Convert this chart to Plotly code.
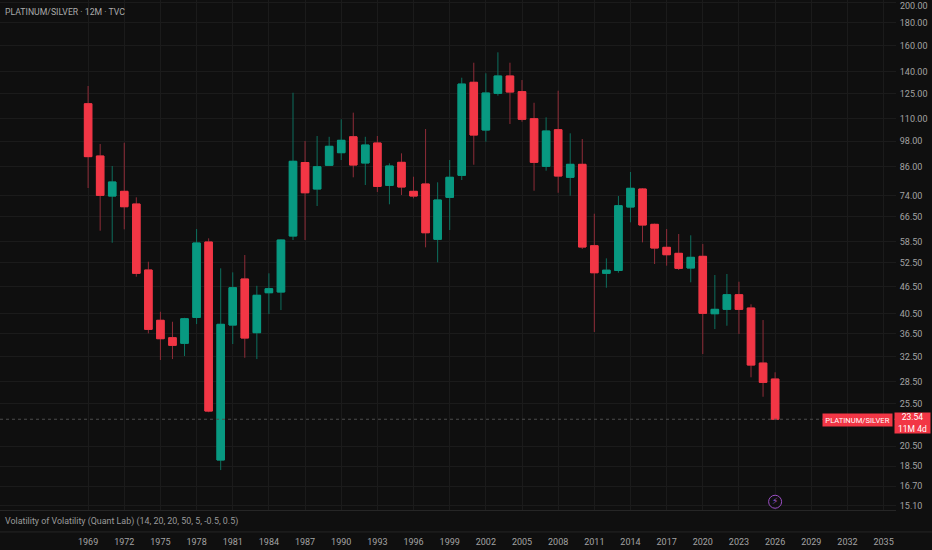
import plotly.graph_objects as go

years = list(range(1969, 2027))

opens = [118.7, 90.8, 73.95, 75.75, 70.98, 50.6, 39.1, 35.76, 34.75, 39.69,
         58.41, 19.1, 38.16, 48.32, 36.69, 45.04, 45.2, 60.24, 87.82, 76.66,
         86.57, 92.35, 100.2, 87.6, 97.05, 78.1, 87.9, 75.75, 78.65, 59.23,
         73.45, 82.23, 132.5, 103.74, 125.2, 136.85, 126.3, 109.93, 86.12, 103.9,
         81.4, 87.0, 57.31, 49.75, 50.5, 69.9, 76.66, 63.96, 56.84, 55.12,
         51.12, 54.28, 40.44, 41.36, 44.58, 41.64, 31.4, 28.93]
highs = [130.0, 96.55, 86.25, 97.2, 73.45, 52.8, 40.85, 38.81, 39.6, 62.44,
         59.53, 51.04, 50.0, 54.64, 46.67, 49.75, 59.2, 125.6, 98.05, 100.6,
         100.2, 109.6, 113.4, 100.2, 100.6, 87.45, 92.05, 81.64, 104.27, 79.34,
         88.95, 135.66, 146.5, 138.75, 154.5, 146.5, 134.06, 119.3, 110.7, 126.9,
         102.0, 99.06, 67.54, 53.72, 73.95, 83.64, 77.0, 64.2, 62.44, 60.86,
         60.46, 57.81, 49.32, 49.57, 47.65, 42.44, 39.15, 29.95]
lows = [77.05, 61.9, 58.2, 62.34, 48.9, 36.57, 31.89, 32.05, 32.55, 38.35,
        24.4, 18.14, 34.62, 32.27, 32.05, 40.37, 41.21, 59.01, 59.01, 70.25,
        86.4, 88.95, 81.4, 78.25, 75.5, 70.87, 74.33, 73.08, 56.84, 52.64,
        62.12, 80.28, 86.83, 97.7, 123.7, 107.0, 108.25, 75.99, 84.2, 75.2,
        74.07, 56.35, 36.82, 46.21, 49.9, 64.62, 58.32, 52.18, 51.73, 50.6,
        47.51, 32.89, 37.38, 38.02, 36.45, 29.19, 26.42, 23.54]
closes = [90.5, 74.2, 79.46, 70.0, 49.75, 37.33, 35.58, 34.39, 39.41, 58.11,
          24.55, 38.3, 46.21, 35.7, 44.45, 45.97, 59.01, 88.36, 75.2, 85.94,
          95.42, 98.4, 86.7, 96.05, 77.7, 86.25, 77.45, 73.95, 61.26, 72.45,
          81.4, 131.3, 101.1, 125.4, 136.85, 126.06, 109.6, 87.9, 103.2, 81.94,
          87.0, 56.93, 49.9, 50.55, 70.36, 76.93, 63.74, 56.64, 54.73, 51.04,
          54.0, 40.52, 41.36, 44.58, 41.36, 31.08, 28.44, 23.54]

price_ticks = [15.10, 16.70, 18.50, 20.50, 25.50, 28.50, 32.50, 36.50, 40.50,
               46.50, 52.50, 58.50, 66.50, 74.00, 86.00, 98.00, 110.00, 125.00,
               140.00, 160.00, 180.00, 200.00]
year_ticks = list(range(1969, 2036, 3))
last_price = 23.54
marker_year = 2026
marker_price = 15.42

X_RANGE = [1961.69, 2036.03]
BG = "#0f0f0f"
GRID = "#1b1b1b"
RED = "#f23645"
GREEN = "#089981"
TEXT = "#a3a3a3"
FONT = "Roboto"

body_tops = [max(o, c) for o, c in zip(opens, closes)]
body_bottoms = [min(o, c) for o, c in zip(opens, closes)]

fig = go.Figure()

# dotted last price line
fig.add_trace(go.Scatter(
    x=X_RANGE, y=[last_price, last_price], mode="lines",
    line=dict(color="#4c4c4c", width=1, dash="dot"),
    showlegend=False, hoverinfo="skip",
))

# wicks, in a duller colour than the bodies
fig.add_trace(go.Candlestick(
    x=years, open=opens, high=highs, low=lows, close=closes,
    whiskerwidth=0,
    increasing=dict(fillcolor=GREEN, line=dict(color="#0d6f5e", width=1)),
    decreasing=dict(fillcolor=RED, line=dict(color="#8f2c38", width=1)),
    showlegend=False, hoverinfo="skip",
))

# bodies on top
body_opens = [b if c >= o else t for o, c, t, b in zip(opens, closes, body_tops, body_bottoms)]
fig.add_trace(go.Candlestick(
    x=years, open=body_opens, high=body_tops, low=body_bottoms, close=closes,
    whiskerwidth=0,
    increasing=dict(fillcolor=GREEN, line=dict(color=GREEN, width=1)),
    decreasing=dict(fillcolor=RED, line=dict(color=RED, width=1)),
    showlegend=False, hoverinfo="skip",
))

# lightning badge near the bottom of the pane
fig.add_trace(go.Scatter(
    x=[marker_year], y=[marker_price], mode="markers+text",
    marker=dict(size=13, color=BG, line=dict(color="#9b4fc4", width=1)),
    text=["⚡"], textposition="middle center",
    textfont=dict(size=9, color="#a45ad0", family="DejaVu Sans"),
    showlegend=False, hoverinfo="skip",
))

fig.update_layout(
    width=932, height=550,
    margin=dict(l=0, r=36, t=0, b=40),
    paper_bgcolor=BG, plot_bgcolor=BG,
    boxmode="overlay", boxgap=0.22, boxgroupgap=0.2,
    font=dict(family=FONT, color=TEXT, size=10),
    xaxis=dict(
        type="linear", range=X_RANGE,
        tickvals=year_ticks, ticktext=[str(y) for y in year_ticks],
        showgrid=True, gridcolor=GRID, gridwidth=1, zeroline=False,
        ticks="outside", ticklen=23, tickcolor="rgba(0,0,0,0)",
        tickfont=dict(size=9, color=TEXT),
        showline=True, linecolor="#262626",
        rangeslider=dict(visible=False),
    ),
    yaxis=dict(
        type="log", side="right", range=[1.1697, 2.3055],
        tickvals=price_ticks, ticktext=[f"{p:.2f}" for p in price_ticks],
        showgrid=True, gridcolor=GRID, gridwidth=1, zeroline=False,
        ticks="outside", ticklen=1, tickcolor="rgba(0,0,0,0)",
        tickfont=dict(size=9, color=TEXT),
    ),
    annotations=[
        dict(text="PLATINUM/SILVER · 12M · TVC", xref="paper", yref="paper",
             x=0, xshift=3, y=1, yshift=-5, xanchor="left", yanchor="top",
             showarrow=False, font=dict(size=8.7, color="#aaaaaa")),
        dict(text="Volatility of Volatility (Quant Lab) (14, 20, 20, 50, 5, -0.5, 0.5)",
             xref="paper", yref="paper", x=0, xshift=3, y=0, yshift=-11,
             xanchor="left", yanchor="middle",
             showarrow=False, font=dict(size=8.9, color="#9a9a9a")),
        # top price label sits on the window edge, the axis drops it
        dict(text="200.00", xref="paper", yref="paper",
             x=1, xshift=3, y=1, yshift=0, xanchor="left", yanchor="top",
             showarrow=False, borderpad=0, font=dict(size=9, color=TEXT)),
        dict(text="PLATINUM/SILVER", xref="paper", yref="y",
             x=1, xshift=-3, y=1.3718, yshift=-1, xanchor="right", yanchor="middle",
             width=69, height=12, showarrow=False, bgcolor=RED, borderpad=0,
             font=dict(size=7.6, color="white")),
        dict(text="23.54<br>11M 4d", xref="paper", yref="y",
             x=1, xshift=-2, y=1.3718, yshift=-4, xanchor="left", yanchor="middle",
             width=35, height=20, showarrow=False, bgcolor=RED, borderpad=0, align="center",
             font=dict(size=8.5, color="white")),
    ],
    shapes=[
        dict(type="line", xref="paper", yref="paper", x0=0, x1=1.04, y0=-0.0431, y1=-0.0431,
             line=dict(color="#262626", width=1)),
    ],
)

fig.write_html("out.html", config=dict(displayModeBar=False),
               post_script="document.body.style.margin='0'")
